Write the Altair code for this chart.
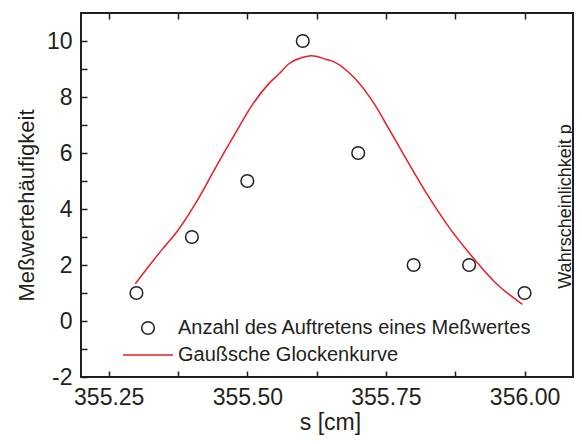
import altair as alt
import pandas as pd

# measured values (circles)
s_values = [355.3, 355.4, 355.5, 355.6, 355.7, 355.8, 355.9, 356.0]
counts = [1, 3, 5, 10, 6, 2, 2, 1]

# Gaussian curve
curve_s = [355.298, 355.346, 355.373, 355.412, 355.445, 355.478, 355.508, 355.538,
           355.557, 355.574, 355.599, 355.616, 355.641, 355.659, 355.695, 355.731,
           355.755, 355.788, 355.827, 355.863, 355.900, 355.948, 355.996]
curve_p = [1.33, 2.55, 3.19, 4.38, 5.56, 6.69, 7.69, 8.46,
           8.82, 9.17, 9.41, 9.47, 9.35, 9.23, 8.64, 7.69,
           6.87, 5.74, 4.44, 3.37, 2.43, 1.36, 0.59]

x_ticks = [355.25, 355.375, 355.5, 355.625, 355.75, 355.875, 356.0]
y_ticks = [-2, -1, 0, 1, 2, 3, 4, 5, 6, 7, 8, 9, 10]
x_domain = [355.2, 356.0874]
y_domain = [-2, 11]

series_names = ["Anzahl des Auftretens eines Meßwertes", "Gaußsche Glockenkurve"]
series_colors = ["#231f20", "#ed1c24"]
series_shapes = ["circle", "M-3.95,0L3.95,0"]

FONT = "Liberation Sans"
INK = "#231f20"

df_pts = pd.DataFrame({"s": s_values, "n": counts, "series": series_names[0]})
df_line = pd.DataFrame({"s": curve_s, "p": curve_p})

xs = alt.Scale(domain=x_domain, nice=False, zero=False)
ys = alt.Scale(domain=y_domain, nice=False, zero=False)

x_axis_bottom = alt.Axis(
    orient="bottom", values=x_ticks, offset=-6, tickSize=6, tickWidth=1.5, tickColor=INK,
    domain=False, grid=False, labelFontSize=23, labelColor=INK, labelFont=FONT,
    labelPadding=9, labelFlush=False, labelOverlap=False,
    labelExpr="abs(datum.value*4 - round(datum.value*4)) < 0.001 ? format(datum.value, '.2f') : ''",
    title="s [cm]", titleFontSize=23, titleFont=FONT, titleColor=INK, titleFontWeight="normal",
    titleBaseline="middle", titleY=51, titleX=249,
)
y_axis_left = alt.Axis(
    orient="left", values=y_ticks, offset=-6, tickSize=6, tickWidth=1.5, tickColor=INK,
    domain=False, grid=False, labelFontSize=23, labelColor=INK, labelFont=FONT,
    labelPadding=9, labelFlush=False, labelOverlap=False,
    labelExpr="datum.value % 2 == 0 ? '' + datum.value : ''",
    title="Meßwertehäufigkeit", titleFontSize=22, titleFont=FONT, titleColor=INK,
    titleFontWeight="normal", titleAngle=270, titleAlign="center", titleBaseline="middle",
    titleX=-61, titleY=192,
)
x_axis_top = alt.Axis(
    orient="top", values=x_ticks, offset=-6, tickSize=6, tickWidth=1.5, tickColor=INK,
    domain=False, grid=False, labels=False, title=None,
)
y_axis_right = alt.Axis(
    orient="right", ticks=False, labels=False, domain=False, grid=False,
    title="Wahrscheinlichkeit p", titleFontSize=18, titleFont=FONT, titleColor=INK,
    titleFontWeight="normal", titleAngle=270, titleAlign="center", titleBaseline="middle",
    titleX=-8, titleY=193,
)

legend = alt.Legend(
    title=None, orient="none", legendX=57, legendY=305, padding=0,
    labelFont=FONT, labelFontSize=20, labelColor=INK, labelLimit=600,
    labelOffset=20, rowPadding=7, symbolSize=160, symbolStrokeWidth=1.5,
)

line = alt.Chart(df_line).mark_line(
    color=series_colors[1], strokeWidth=1.5, interpolate="monotone"
).encode(
    x=alt.X("s:Q", scale=xs, axis=x_axis_top),
    y=alt.Y("p:Q", scale=ys, axis=y_axis_right),
)

points = alt.Chart(df_pts).mark_point(
    filled=False, size=160, strokeWidth=1.5, opacity=1
).encode(
    x=alt.X("s:Q", scale=xs, axis=x_axis_bottom),
    y=alt.Y("n:Q", scale=ys, axis=y_axis_left),
    color=alt.Color("series:N", scale=alt.Scale(domain=series_names, range=series_colors), legend=legend),
    shape=alt.Shape("series:N", scale=alt.Scale(domain=series_names, range=series_shapes), legend=legend),
)

chart = alt.layer(points, line).resolve_axis(x="independent", y="independent").properties(
    width=492, height=364,
    autosize=alt.AutoSizeParams(type="none"),
    padding={"left": 73, "top": 5, "right": 1, "bottom": 58},
    background="white",
).configure_view(stroke=INK, strokeWidth=2)

chart.save("out.html", embed_options={"renderer": "svg", "actions": False})
